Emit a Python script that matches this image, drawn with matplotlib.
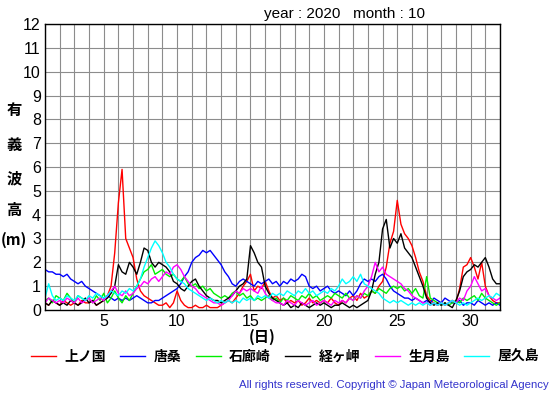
import numpy as np
import matplotlib
matplotlib.use("Agg")
import matplotlib.pyplot as plt

# significant wave height (m), read every 6 hours from 1st 00h to 32nd 00h
kaminokuni = [0.3, 0.2, 0.4, 0.3, 0.2, 0.4, 0.3, 0.2, 0.3, 0.2, 0.4, 0.3, 0.3, 0.4, 0.2, 0.3,
              0.4, 0.6, 1.0, 2.4, 4.5, 5.9, 3.0, 2.6, 2.2, 1.3, 0.8, 0.6, 0.5, 0.4, 0.3, 0.2,
              0.2, 0.3, 0.1, 0.3, 0.8, 0.4, 0.2, 0.1, 0.1, 0.2, 0.1, 0.1, 0.2, 0.1, 0.1, 0.1,
              0.2, 0.3, 0.4, 0.3, 0.5, 0.7, 1.0, 1.2, 1.5, 0.8, 1.0, 0.9, 1.2, 0.8, 0.5, 0.6,
              0.4, 0.5, 0.3, 0.4, 0.3, 0.4, 0.2, 0.3, 0.5, 0.3, 0.4, 0.3, 0.4, 0.3, 0.5, 0.3,
              0.2, 0.4, 0.3, 0.5, 0.6, 0.4, 0.7, 0.5, 0.6, 0.8, 0.7, 1.0, 1.2, 1.8, 2.8, 3.3,
              4.6, 3.6, 3.2, 3.0, 2.7, 2.2, 1.6, 1.2, 0.6, 0.4, 0.3, 0.2, 0.3, 0.2, 0.3, 0.4,
              0.3, 0.9, 1.8, 1.9, 2.2, 1.8, 1.3, 2.0, 1.0, 0.6, 0.4, 0.3, 0.3]
karakuwa = [1.7, 1.6, 1.6, 1.5, 1.5, 1.4, 1.5, 1.3, 1.2, 1.1, 1.2, 1.0, 0.9, 0.8, 0.7, 0.6,
            0.5, 0.6, 0.5, 0.4, 0.5, 0.4, 0.5, 0.4, 0.5, 0.6, 0.5, 0.4, 0.3, 0.3, 0.4, 0.4,
            0.5, 0.6, 0.7, 0.8, 0.9, 1.1, 1.4, 1.6, 2.0, 2.2, 2.3, 2.5, 2.4, 2.5, 2.3, 2.1,
            1.9, 1.6, 1.4, 1.1, 1.0, 1.2, 1.3, 1.2, 1.1, 1.0, 1.2, 1.1, 1.2, 1.3, 1.1, 1.2,
            1.0, 1.2, 1.1, 1.3, 1.2, 1.3, 1.5, 1.4, 1.0, 0.9, 1.0, 0.8, 0.9, 1.0, 0.8, 0.7,
            0.8, 0.7, 0.6, 0.8, 0.6, 0.8, 1.1, 1.3, 1.2, 1.3, 1.2, 1.4, 1.5, 1.3, 1.0, 0.8,
            0.7, 0.6, 0.5, 0.5, 0.4, 0.5, 0.4, 0.3, 0.4, 0.3, 0.5, 0.4, 0.3, 0.5, 0.4, 0.3,
            0.3, 0.4, 0.2, 0.3, 0.3, 0.2, 0.4, 0.3, 0.2, 0.3, 0.2, 0.3, 0.2]
irozaki = [0.4, 0.5, 0.3, 0.6, 0.5, 0.4, 0.7, 0.5, 0.3, 0.6, 0.5, 0.4, 0.5, 0.3, 0.6, 0.4,
           0.7, 0.3, 0.5, 0.8, 0.5, 0.3, 0.6, 0.4, 0.7, 1.0, 1.3, 1.6, 1.7, 1.9, 1.5, 1.6,
           1.7, 1.5, 1.4, 1.5, 1.3, 1.2, 1.4, 1.1, 1.0, 1.1, 0.9, 1.0, 0.8, 0.9, 0.7, 0.6,
           0.5, 0.6, 0.5, 0.7, 0.8, 0.6, 0.7, 0.5, 0.6, 0.4, 0.5, 0.4, 0.5, 0.6, 0.4, 0.5,
           0.3, 0.5, 0.4, 0.6, 0.5, 0.4, 0.6, 0.5, 0.7, 0.5, 0.6, 0.4, 0.5, 0.6, 0.5, 0.7,
           0.6, 0.5, 0.7, 0.5, 0.4, 0.6, 0.5, 0.7, 0.6, 0.8, 0.7, 0.9, 0.8, 0.7, 0.9, 1.0,
           0.9, 1.0, 0.8, 0.9, 0.7, 0.9, 0.6, 0.5, 1.4, 0.5, 0.4, 0.3, 0.2, 0.3, 0.2, 0.3,
           0.4, 0.3, 0.5, 0.4, 0.5, 0.6, 0.4, 0.7, 0.5, 0.4, 0.3, 0.2, 0.3]
kyogamisaki = [0.3, 0.2, 0.4, 0.3, 0.2, 0.3, 0.2, 0.4, 0.3, 0.2, 0.3, 0.5, 0.3, 0.4, 0.2, 0.3,
               0.4, 0.5, 0.7, 1.0, 1.9, 1.6, 1.5, 2.0, 1.8, 1.5, 2.0, 2.6, 2.5, 2.0, 1.8, 2.0,
               1.9, 1.8, 1.6, 1.2, 1.1, 0.9, 0.8, 1.0, 1.2, 1.3, 1.0, 0.8, 0.6, 0.5, 0.4, 0.4,
               0.3, 0.4, 0.5, 0.6, 0.8, 1.0, 1.1, 1.3, 2.7, 2.4, 2.0, 1.8, 1.0, 0.7, 0.5, 0.4,
               0.3, 0.2, 0.3, 0.1, 0.2, 0.1, 0.3, 0.2, 0.1, 0.2, 0.3, 0.2, 0.3, 0.2, 0.1, 0.2,
               0.2, 0.3, 0.2, 0.1, 0.2, 0.1, 0.2, 0.3, 0.4, 0.8, 1.5, 2.0, 3.4, 3.8, 2.6, 3.0,
               2.8, 3.2, 2.6, 2.4, 2.2, 1.8, 1.4, 1.0, 0.5, 0.3, 0.2, 0.3, 0.2, 0.3, 0.2, 0.1,
               0.4, 0.8, 1.4, 1.6, 1.7, 1.9, 1.8, 2.0, 2.2, 1.8, 1.3, 1.1, 1.1]
ikitsukishima = [0.3, 0.5, 0.4, 0.3, 0.4, 0.3, 0.5, 0.4, 0.3, 0.5, 0.3, 0.4, 0.5, 0.3, 0.4, 0.5,
                 0.4, 0.6, 0.8, 1.0, 0.7, 0.6, 0.8, 0.6, 0.7, 0.9, 1.0, 1.2, 1.1, 1.3, 1.4, 1.2,
                 1.4, 1.6, 1.5, 1.8, 1.9, 1.7, 1.4, 1.2, 1.0, 0.9, 0.7, 0.6, 0.5, 0.4, 0.3, 0.3,
                 0.2, 0.3, 0.4, 0.6, 0.8, 0.7, 0.9, 0.8, 0.9, 0.8, 0.7, 1.0, 0.7, 0.5, 0.4, 0.3,
                 0.3, 0.2, 0.4, 0.3, 0.2, 0.4, 0.3, 0.2, 0.3, 0.4, 0.2, 0.3, 0.4, 0.3, 0.2, 0.4,
                 0.3, 0.4, 0.3, 0.5, 0.4, 0.6, 0.5, 0.8, 1.0, 1.4, 2.0, 1.6, 1.8, 1.5, 1.4, 1.3,
                 1.2, 1.1, 0.9, 0.8, 0.6, 0.5, 0.4, 0.3, 0.3, 0.2, 0.3, 0.2, 0.3, 0.2, 0.3, 0.4,
                 0.3, 0.5, 0.4, 0.8, 1.0, 1.4, 1.1, 0.8, 0.9, 0.6, 0.5, 0.4, 0.5]
yakushima = [0.5, 1.1, 0.6, 0.4, 0.5, 0.4, 0.6, 0.5, 0.4, 0.6, 0.5, 0.4, 0.6, 0.5, 0.7, 0.6,
             0.5, 0.6, 0.8, 0.7, 0.6, 0.8, 0.7, 0.9, 0.8, 1.0, 1.3, 1.8, 2.2, 2.6, 2.9, 2.7,
             2.4, 2.0, 1.8, 1.5, 1.3, 1.2, 1.1, 0.9, 0.8, 0.7, 0.6, 0.5, 0.4, 0.5, 0.4, 0.3,
             0.4, 0.3, 0.4, 0.3, 0.4, 0.3, 0.5, 0.4, 0.5, 0.4, 0.6, 0.5, 0.6, 0.5, 0.7, 0.6,
             0.7, 0.6, 0.8, 0.7, 0.6, 0.8, 0.7, 0.9, 0.7, 0.8, 0.6, 0.7, 0.8, 0.7, 0.9, 0.8,
             1.0, 1.3, 1.1, 1.2, 1.4, 1.2, 1.5, 1.1, 1.0, 0.9, 0.8, 0.7, 0.5, 0.4, 0.3, 0.4,
             0.3, 0.4, 0.3, 0.2, 0.3, 0.2, 0.3, 0.2, 0.3, 0.2, 0.3, 0.2, 0.3, 0.2, 0.3, 0.4,
             0.3, 0.2, 0.3, 0.2, 0.3, 0.4, 0.5, 0.4, 0.5, 0.6, 0.5, 0.7, 0.6]

stations = ["上ノ国", "唐桑", "石廊崎", "経ヶ岬", "生月島", "屋久島"]
colors = ["#ff0000", "#0000ff", "#00ee00", "#000000", "#ff00ff", "#00ffff"]
series = [kaminokuni, karakuwa, irozaki, kyogamisaki, ikitsukishima, yakushima]

days = 1 + np.arange(len(kaminokuni)) * 0.25

jp = ["Noto Sans CJK JP", "DejaVu Sans"]
plt.rcParams["font.family"] = ["Liberation Sans", "DejaVu Sans"]

fig = plt.figure(figsize=(5.55, 3.95), dpi=100)
ax = fig.add_axes([45 / 555, 1 - 310 / 395, 455 / 555, 286 / 395])

for vals, c, name in zip(series, colors, stations):
    ax.plot(days, vals, color=c, lw=1.0, label=name)

ax.set_xlim(1, 32)
ax.set_ylim(0, 12)
ax.set_xticks(np.arange(1, 33), minor=True)
ax.set_xticks([5, 10, 15, 20, 25, 30])
ax.set_yticks(np.arange(0, 13))
ax.grid(True, which="both", color="#8c8c8c", lw=0.8)
ax.tick_params(which="both", length=0, labelsize=11.5, pad=3)
for s in ax.spines.values():
    s.set_color("black")
    s.set_linewidth(1.0)

fig.text(345 / 555, 1 - 14 / 395, "year : 2020   month : 10", ha="center", va="center", fontsize=11)

for txt, yp in zip(["有", "義", "波", "高", "(m)"], [110, 145, 178, 210, 240]):
    fig.text(14 / 555, 1 - yp / 395, txt, ha="center", va="center", fontsize=11,
             fontweight="bold", family=jp)

fig.text(262 / 555, 1 - 337 / 395, "(日)", ha="center", va="center", fontsize=11,
         fontweight="bold", family=jp)

fig.legend(loc="center", bbox_to_anchor=(285 / 555, 1 - 357 / 395), ncol=6, frameon=False,
           handlelength=1.8, handletextpad=0.6, columnspacing=1.05,
           prop={"family": jp, "weight": "bold", "size": 10})

fig.text(549 / 555, 1 - 385 / 395, "All rights reserved. Copyright © Japan Meteorological Agency",
         ha="right", va="center", fontsize=8.2, color="#3333cc")

fig.savefig("out.png", dpi=100)
